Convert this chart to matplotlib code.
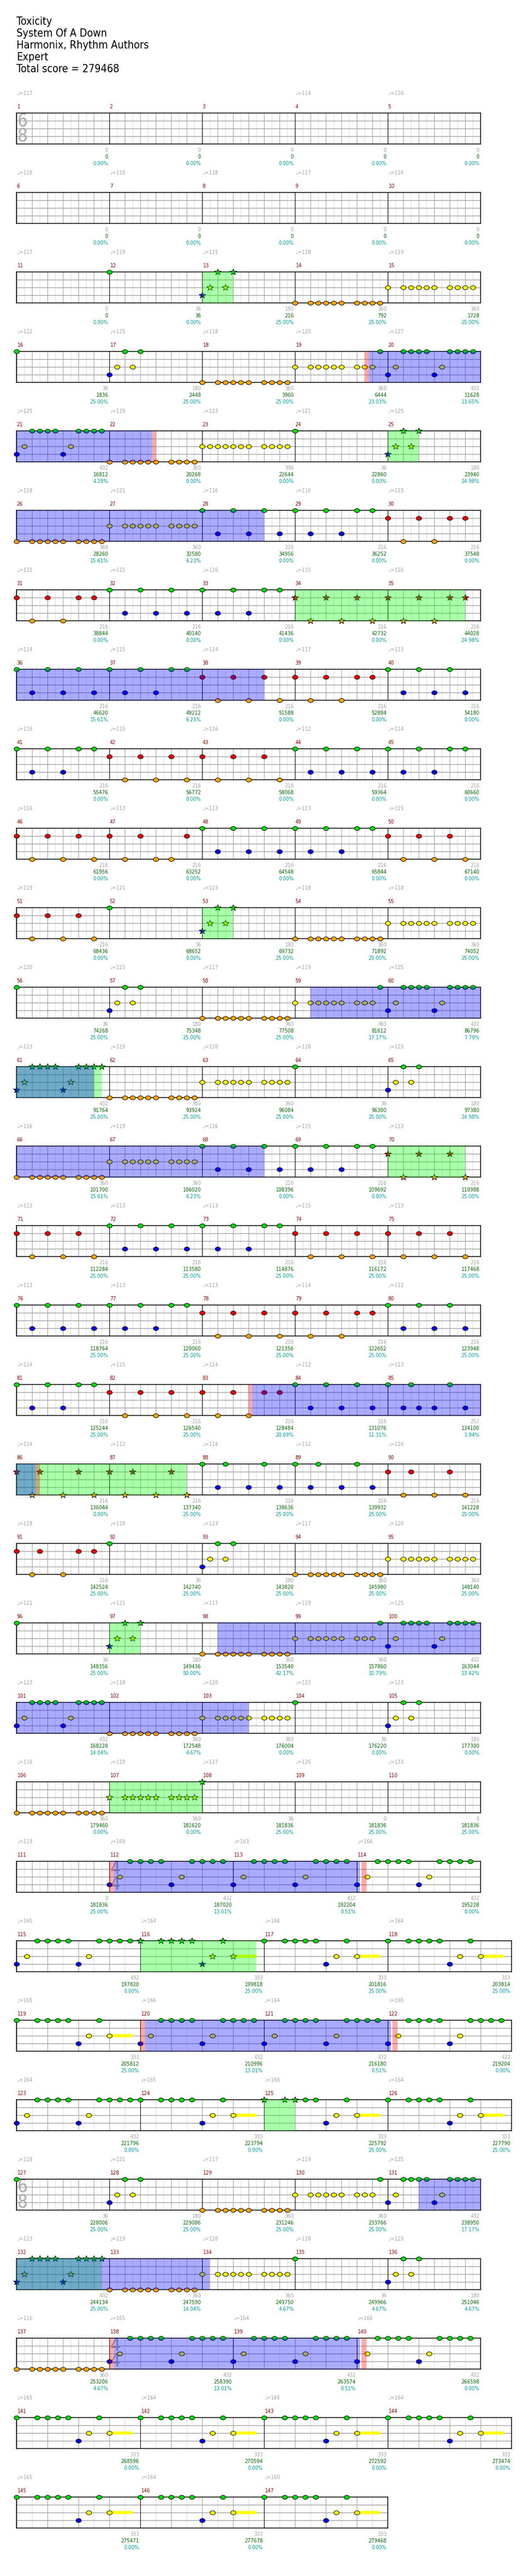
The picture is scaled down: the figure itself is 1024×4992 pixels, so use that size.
import matplotlib
matplotlib.use("Agg")
import matplotlib.pyplot as plt
import matplotlib.patches as mpatches
from matplotlib.path import Path
import numpy as np

#----------------------------------------------------------------------
#   Chart data
# ----------------------------------------------------------------------

header_lines = ["Toxicity", "System Of A Down", "Harmonix, Rhythm Authors", "Expert",
                "Total score = 279468"]

n_measures      = 147
time_signatures = {1: (6, 8), 112: (4, 4), 127: (6, 8), 138: (4, 4)}

tempo_marks = {
    1: 117, 4: 114, 5: 116,
    6: 116, 7: 116, 8: 118, 9: 117, 10: 116,
    11: 117, 12: 119, 13: 125, 14: 118, 15: 119,
    16: 122, 17: 125, 18: 118, 19: 120, 20: 127,
    21: 125, 22: 119, 23: 123, 24: 121, 25: 125,
    26: 118, 27: 121, 28: 116, 29: 116, 30: 115,
    31: 115, 32: 115, 33: 116, 34: 115, 35: 116,
    36: 114, 37: 115, 38: 114, 39: 117, 40: 113,
    41: 116, 42: 115, 43: 116, 44: 112, 45: 114,
    46: 116, 47: 113, 48: 113, 49: 113, 50: 115,
    51: 119, 52: 121, 53: 123, 54: 118, 55: 118,
    56: 120, 57: 123, 58: 117, 59: 119, 60: 125,
    61: 123, 62: 119, 63: 120, 64: 118, 65: 123,
    66: 116, 67: 119, 68: 116, 69: 115, 70: 113,
    71: 113, 72: 113, 73: 113, 74: 115, 75: 113,
    76: 113, 77: 113, 78: 113, 79: 114, 80: 112,
    81: 114, 82: 115, 83: 114, 84: 112, 85: 113,
    86: 114, 87: 112, 88: 114, 89: 112, 90: 116,
    91: 118, 92: 118, 93: 123, 94: 117, 95: 120,
    96: 121, 97: 121, 98: 117, 99: 119, 100: 125,
    101: 123, 102: 118, 103: 120, 104: 122, 105: 123,
    106: 116, 107: 119, 108: 127, 109: 126, 110: 133,
    111: 119, 112: 169, 113: 163, 114: 166,
    115: 165, 116: 164, 117: 166, 118: 164,
    119: 165, 120: 166, 121: 164, 122: 165,
    123: 164, 124: 165, 125: 166, 126: 164,
    127: 118, 128: 121, 129: 117, 130: 119, 131: 125,
    132: 123, 133: 119, 134: 120, 135: 118, 136: 123,
    137: 116, 138: 165, 139: 164, 140: 166,
    141: 165, 142: 164, 143: 166, 144: 164,
    145: 165, 146: 164, 147: 160,
}

# notes per measure: lane letter + position in 16ths from the measure start
notes = {
    12: "G0",
    13: "B0 Y1 G2 Y3 G4",
    14: "O0 O2 O3 O4 O5 O6 O8 O9 O10 O11",
    15: "Y0 Y2 Y3 Y4 Y5 Y6 Y8 Y9 Y10 Y11",
    16: "G0",
    17: "B0 Y1 G2 Y3 G4",
    18: "O0 O2 O3 O4 O5 O6 O8 O9 O10 O11",
    19: "Y0 Y2 Y3 Y4 Y5 Y6 Y8 Y9 Y10 G11",
    20: "B0 Y1 G2 G3 G4 G5 B6 Y7 G8 G9 G10 G11",
    21: "B0 Y1 G2 G3 G4 G5 B6 Y7 G8 G9 G10 G11",
    22: "O0 O2 O3 O4 O5 O6 O8 O9 O10 O11",
    23: "Y0 Y1 Y2 Y3 Y4 Y5 Y6 Y8 Y9 Y10 Y11",
    24: "G0",
    25: "B0 Y1 G2 Y3 G4",
    26: "O0 O2 O3 O4 O5 O6 O8 O9 O10 O11",
    27: "Y0 Y2 Y3 Y4 Y5 Y6 Y8 Y9 Y10 Y11",
    28: "G0 B2 G4 B6 G8 B10",
    29: "G0 B2 G4 B6 G8 G10",
    30: "R0 O2 R4 O6 R8 R10",
    31: "R0 O2 R4 O6 R8 R10",
    32: "G0 B2 G4 B6 G8 B10",
    33: "G0 B2 G4 B6 G8 G10",
    34: "R0 O2 R4 O6 R8 O10",
    35: "R0 O2 R4 O6 R8 R10",
    36: "G0 B2 G4 B6 G8 B10",
    37: "G0 B2 G4 B6 G8 G10",
    38: "R0 O2 R4 O6 R8 O10",
    39: "R0 O2 R4 O6 R8 R10",
    40: "G0 B2 G4 B6 G8 B10",
    41: "G0 B2 G4 B6 G8 G10",
    42: "R0 O2 R4 O6 R8 O10",
    43: "R0 O2 R4 O6 R8 O10",
    44: "G0 B2 G4 B6 G8 B10",
    45: "G0 B2 G4 B6 G8 G10",
    46: "R0 O2 R4 O6 R8 O10",
    47: "R0 O2 R4 O6 O8 R10",
    48: "G0 B2 G4 B6 G8 B10",
    49: "G0 B2 G4 B6 G8 G10",
    50: "R0 O2 R4 O6 R8 O10",
    51: "R0 O2 R4 O6 R8 O10",
    52: "G0",
    53: "B0 Y1 G2 Y3 G4",
    54: "O0 O2 O3 O4 O5 O6 O8 O9 O10 O11",
    55: "Y0 Y2 Y3 Y4 Y5 Y6 Y8 Y9 Y10 Y11",
    56: "G0",
    57: "B0 Y1 G2 Y3 G4",
    58: "O0 O2 O3 O4 O5 O6 O8 O9 O10 O11",
    59: "Y0 Y2 Y3 Y4 Y5 Y6 Y8 Y9 Y10 G11",
    60: "B0 Y1 G2 G3 G4 G5 B6 Y7 G8 G9 G10 G11",
    61: "B0 Y1 G2 G3 G4 G5 B6 Y7 G8 G9 G10 G11",
    62: "O0 O2 O3 O4 O5 O6 O8 O9 O10 O11",
    63: "Y0 Y2 Y3 Y4 Y5 Y6 Y8 Y9 Y10 Y11",
    64: "G0",
    65: "B0 Y1 G2 Y3 G4",
    66: "O0 O2 O3 O4 O5 O6 O8 O9 O10 O11",
    67: "Y0 Y2 Y3 Y4 Y5 Y6 Y8 Y9 Y10 Y11",
    68: "G0 B2 G4 B6 G8 B10",
    69: "G0 B2 G4 B6 G8 G10",
    70: "R0 O2 R4 O6 R8 O10",
    71: "R0 O2 R4 O6 R8 O10",
    72: "G0 B2 G4 B6 G8 B10",
    73: "G0 B2 G4 B6 G8 G10",
    74: "R0 O2 R4 O6 R8 O10",
    75: "R0 O2 R4 O6 R8 O10",
    76: "G0 B2 G4 B6 G8 B10",
    77: "G0 B2 G4 B6 G8 G10",
    78: "R0 O2 R4 O6 R8 O10",
    79: "R0 O2 R4 O6 R8 R10",
    80: "G0 B2 G4 B6 G8 B10",
    81: "G0 B2 G4 B6 G8 G10",
    82: "R0 O2 R4 O6 R8 O10",
    83: "R0 O2 R4 O6 R8 R10",
    84: "G0 B2 G4 B6 G8 B10",
    85: "G0 B2 G3 B4 B6 G8 B10",
    86: "R0 O2 R3 O6 R8 O10",
    87: "R0 O2 R3 O6 R8 O10",
    88: "G0 B2 G3 B6 G8 B10",
    89: "G0 B2 G3 B6 G8 B10",
    90: "R0 O2 R3 O6 R8 O10",
    91: "R0 O2 R3 O6 R8 R10",
    92: "G0",
    93: "B0 Y1 G2 Y3 G4",
    94: "O0 O2 O3 O4 O5 O6 O8 O9 O10 O11",
    95: "Y0 Y2 Y3 Y4 Y5 Y6 Y8 Y9 Y10 Y11",
    96: "G0",
    97: "B0 Y1 G2 Y3 G4",
    98: "O0 O2 O3 O4 O5 O6 O8 O9 O10 O11",
    99: "Y0 Y2 Y3 Y4 Y5 Y6 Y8 Y9 Y10 G11",
    100: "B0 Y1 G2 G3 G4 G5 B6 Y7 G8 G9 G10 G11",
    101: "B0 Y1 G2 G3 G4 G5 B6 Y7 G8 G9 G10 G11",
    102: "O0 O2 O3 O4 O5 O6 O8 O9 O10 O11",
    103: "Y0 Y2 Y3 Y4 Y5 Y6 Y8 Y9 Y10 Y11",
    104: "G0",
    105: "B0 Y1 G2 Y3 G4",
    106: "O0 O2 O3 O4 O5 O6 O8 O9 O10 O11",
    107: "Y0 Y2 Y3 Y4 Y5 Y6 Y8 Y9 Y10 Y11",
    108: "G0",
    112: "B0 Y1.33 G2.67 G4 G5.33 G6.67 B8 Y9.33 G10.67 G12 G13.33 G14.67",
    113: "B0 Y1.33 G2.67 G4 G5.33 G6.67 B8 Y9.33 G10.67 G12 G13.33 G14.67",
    114: "B0 Y1.33 G2.67 G4 G5.33 G6.67 B8 Y9.33 G10.67 G12 G13.33 G14.67",
    115: "B0 Y1.33 G2.67 G4 G5.33 G6.67 B8 Y9.33 G10.67 G12 G13.33 G14.67",
    116: "G0 G2.67 G4 G5.33 G6.67 B8 Y9.33 G10.67 Y12",
    117: "G0 G2.67 G4 G5.33 G6.67 B8 Y9.33 G10.67 Y12",
    118: "G0 G2.67 G4 G5.33 G6.67 B8 Y9.33 G10.67 Y12",
    119: "G0 G2.67 G4 G5.33 G6.67 B8 Y9.33 G10.67 Y12",
    120: "B0 Y1.33 G2.67 G4 G5.33 G6.67 B8 Y9.33 G10.67 G12 G13.33 G14.67",
    121: "B0 Y1.33 G2.67 G4 G5.33 G6.67 B8 Y9.33 G10.67 G12 G13.33 G14.67",
    122: "B0 Y1.33 G2.67 G4 G5.33 G6.67 B8 Y9.33 G10.67 G12 G13.33 G14.67",
    123: "B0 Y1.33 G2.67 G4 G5.33 G6.67 B8 Y9.33 G10.67 G12 G13.33 G14.67",
    124: "G0 G2.67 G4 G5.33 G6.67 B8 Y9.33 G10.67 Y12",
    125: "G0 G2.67 G4 G5.33 G6.67 B8 Y9.33 G10.67 Y12",
    126: "G0 G2.67 G4 G5.33 G6.67 B8 Y9.33 G10.67 Y12",
    127: "G0",
    128: "B0 Y1 G2 Y3 G4",
    129: "O0 O2 O3 O4 O5 O6 O8 O9 O10 O11",
    130: "Y0 Y2 Y3 Y4 Y5 Y6 Y8 Y9 Y10 G11",
    131: "B0 Y1 G2 G3 G4 G5 B6 Y7 G8 G9 G10 G11",
    132: "B0 Y1 G2 G3 G4 G5 B6 Y7 G8 G9 G10 G11",
    133: "O0 O2 O3 O4 O5 O6 O8 O9 O10 O11",
    134: "Y0 Y2 Y3 Y4 Y5 Y6 Y8 Y9 Y10 Y11",
    135: "G0",
    136: "B0 Y1 G2 Y3 G4",
    137: "O0 O2 O3 O4 O5 O6 O8 O9 O10 O11",
    138: "B0 Y1.33 G2.67 G4 G5.33 G6.67 B8 Y9.33 G10.67 G12 G13.33 G14.67",
    139: "B0 Y1.33 G2.67 G4 G5.33 G6.67 B8 Y9.33 G10.67 G12 G13.33 G14.67",
    140: "B0 Y1.33 G2.67 G4 G5.33 G6.67 B8 Y9.33 G10.67 G12 G13.33 G14.67",
    141: "G0 G2.67 G4 G5.33 G6.67 B8 Y9.33 G10.67 Y12",
    142: "G0 G2.67 G4 G5.33 G6.67 B8 Y9.33 G10.67 Y12",
    143: "G0 G2.67 G4 G5.33 G6.67 B8 Y9.33 G10.67 Y12",
    144: "G0 G2.67 G4 G5.33 G6.67 B8 Y9.33 G10.67 Y12",
    145: "G0 G2.67 G4 G5.33 G6.67 B8 Y9.33 G10.67 Y12",
    146: "G0 G2.67 G4 G5.33 G6.67 B8 Y9.33 G10.67 Y12",
    147: "G0 G2.67 G4 G5.33 G6.67 B8 Y9.33 G10.67 Y12",
}

# sustains: (measure, lane, start, end) in 16ths
sustains = [(116, "Y", 12, 15), (117, "Y", 12, 15), (118, "Y", 12, 15),
            (119, "Y", 12, 15), (124, "Y", 12, 15), (125, "Y", 12, 15),
            (126, "Y", 12, 15), (141, "Y", 12, 15), (142, "Y", 12, 15),
            (143, "Y", 12, 15), (144, "Y", 12, 15), (145, "Y", 12, 15),
            (146, "Y", 12, 15), (147, "Y", 12, 15)]

# star power phrases and activations: ((measure, pos), (measure, pos))
sp_phrases = [((13, 0), (13, 4)), ((25, 0), (25, 4)), ((34, 0), (35, 10)),
              ((53, 0), (53, 4)), ((61, 0), (61, 11)), ((70, 0), (70, 10)),
              ((86, 0), (87, 10)), ((97, 0), (97, 4)), ((107, 0), (108, 0)),
              ((116, 0), (116, 15)), ((125, 0), (125, 4)), ((132, 0), (132, 11))]
activations = [((19, 9.5), (22, 5.5)), ((26, 0), (28, 8)), ((36, 0), (38, 8)),
               ((59, 2), (61, 10)), ((66, 0), (68, 8)), ((83, 6.45), (86, 2.45)),
               ((98, 2), (103, 6)), ((112, 0.6), (114, 0.4)), ((120, 0.6), (122, 0.4)),
               ((131, 4), (134, 1)), ((138, 0.6), (140, 0.4))]
squeezes = [((19, 9.0), (19, 9.5)), ((22, 5.5), (22, 6.0)), ((83, 6.0), (83, 6.45)),
            ((86, 2.45), (86, 3.0)), ((112, 0), (112, 0.6)), ((114, 0.6), (114, 1.25)),
            ((120, 0), (120, 0.6)), ((122, 0.6), (122, 1.25)),
            ((138, 0), (138, 0.6)), ((140, 0.6), (140, 1.25))]

base_scores = ([0] * 10 +
               [0, 36, 180, 360, 360, 36, 180, 360, 360, 432,
                432, 360, 396, 36, 180, 360, 360, 216, 216, 216] +
               [216] * 20 +
               [216, 36, 180, 360, 360, 36, 180, 360, 360, 432,
                432, 360, 360, 36, 180, 360, 360, 216, 216, 216] +
               [216] * 10 +
               [216, 216, 216, 216, 252, 216, 216, 216, 216, 216,
                216, 36, 180, 360, 360, 36, 180, 360, 360, 432,
                432, 360, 360, 36, 180, 360, 360, 36, 0, 0,
                0, 432, 432, 432, 432, 333, 333, 333,
                333, 432, 432, 432, 432, 333, 333, 333,
                36, 180, 360, 360, 432, 432, 360, 360, 36, 180,
                360, 432, 432, 432, 333, 333, 333, 333, 333, 333, 333])
running_scores = ([0] * 10 +
                  [0, 36, 216, 792, 1728, 1836, 2448, 3960, 6444, 11628,
                   16812, 20268, 22644, 22860, 23940, 28260, 32580, 34956, 36252, 37548,
                   38844, 40140, 41436, 42732, 44028, 46620, 49212, 51588, 52884, 54180,
                   55476, 56772, 58068, 59364, 60660, 61956, 63252, 64548, 65844, 67140,
                   68436, 68652, 69732, 71892, 74052, 74268, 75348, 77508, 81612, 86796,
                   91764, 93924, 96084, 96300, 97380, 101700, 106020, 108396, 109692, 110988,
                   112284, 113580, 114876, 116172, 117468, 118764, 120060, 121356, 122652, 123948,
                   125244, 126540, 128484, 131076, 134100, 136044, 137340, 138636, 139932, 141228,
                   142524, 142740, 143820, 145980, 148140, 148356, 149436, 153540, 157860, 163044,
                   168228, 172548, 176004, 176220, 177300, 179460, 181620, 181836, 181836, 181836,
                   181836, 187020, 192204, 195228, 197820, 199818, 201816, 203814,
                   205812, 210996, 216180, 219204, 221796, 223794, 225792, 227790,
                   228006, 229086, 231246, 233766, 238950, 244134, 247590, 249750, 249966, 251046,
                   253206, 258390, 263574, 266598, 268596, 270594, 272592, 273474, 275471,
                   277678, 279468])
sp_percents = ([0.0] * 10 +
               [0, 0, 25, 25, 25, 25, 25, 25, 23.03, 13.65,
                4.28, 0, 0, 0, 24.98, 15.61, 6.23, 0, 0, 0,
                0, 0, 0, 0, 24.98, 15.61, 6.23, 0, 0, 0] +
               [0.0] * 10 +
               [0, 0, 25, 25, 25, 25, 25, 25, 17.17, 7.79,
                25, 25, 25, 25, 24.98, 15.61, 6.23, 0, 0, 25] +
               [25.0] * 10 +
               [25, 25, 20.69, 11.31, 1.94, 0, 25, 25, 25, 25,
                25, 25, 25, 25, 25, 25, 50, 42.17, 32.79, 23.42,
                14.04, 4.67, 0, 0, 0, 0, 0, 25, 25, 25,
                25, 13.01, 0.51, 0, 0, 25, 25, 25,
                25, 13.01, 0.51, 0, 0, 0, 25, 25,
                25, 25, 25, 25, 17.17, 25, 14.04, 4.67, 4.67, 4.67,
                4.67, 13.01, 0.51, 0, 0, 0, 0, 0, 0, 0, 0])

# ----------------------------------------------------------------------
#   Styling
# ----------------------------------------------------------------------

W, H       = 1024, 4992
PX_PER_16  = 15
ROW_TICKS  = 64
lane_of    = {"G": 0, "R": 1, "Y": 2, "B": 3, "O": 4}
lane_color = {"G": "#00dd00", "R": "#ee0000", "Y": "#ffff00", "B": "#0000ee", "O": "#ffa500"}
FONT       = dict(family="DejaVu Sans", fontstretch="condensed")

t = np.linspace(0, 2 * np.pi, 40)
note_marker = Path(np.column_stack([np.cos(t), 0.75 * np.sin(t)]))
star = Path.unit_regular_star(5, 0.4)
star_marker = Path(star.vertices * [1.0, 0.9], star.codes)

fig = plt.figure(figsize=(W / 100, H / 100), dpi=100)

for i, line in enumerate(header_lines):
    fig.text(32 / W, 1 - (42 + 23 * i) / H, line, fontsize=15, va="center", ha="left", **FONT)

# measure lengths (16ths) and rows of at most 16 quarter beats
measure_len, measure_sig = {}, {}
sig = None
for m in range(1, n_measures + 1):
    sig = time_signatures.get(m, sig)
    measure_sig[m] = sig
    measure_len[m] = sig[0] * 16 // sig[1]

measure_start = {}
acc = 0
for m in range(1, n_measures + 1):
    measure_start[m] = acc
    acc += measure_len[m]

rows, cur, cur_len = [], [], 0
for m in range(1, n_measures + 1):
    if cur and cur_len + measure_len[m] > ROW_TICKS:
        rows.append(cur)
        cur, cur_len = [], 0
    cur.append(m)
    cur_len += measure_len[m]
rows.append(cur)


def gtick(mp):
    return measure_start[mp[0]] + mp[1]


phrase_ticks = [(gtick(a), gtick(b)) for a, b in sp_phrases]
act_ticks    = [(gtick(a), gtick(b)) for a, b in activations]
sq_ticks     = [(gtick(a), gtick(b)) for a, b in squeezes]


def overlay(ax, spans, g0, g1, color):
    for a, b in spans:
        lo, hi = max(a, g0), min(b, g1)
        if hi > lo:
            ax.add_patch(mpatches.Rectangle((lo - g0, 0), hi - lo, 4, facecolor=color,
                                            alpha=1 / 3, lw=0, zorder=5))


for r, row in enumerate(rows):
    y0 = 181 + 154 * r
    g0 = measure_start[row[0]]
    row_len = sum(measure_len[m] for m in row)
    g1 = g0 + row_len
    ax = fig.add_axes([32 / W, 1 - (y0 + 98) / H, row_len * PX_PER_16 / W, 60 / H])
    ax.set_xlim(0, row_len)
    ax.set_ylim(4, 0)
    ax.set_xticks([])
    ax.set_yticks([])
    for s in ax.spines.values():
        s.set_color("black")
        s.set_linewidth(1.1)
        s.set_zorder(3)

    # grid
    for lane in (1, 2, 3):
        ax.axhline(lane, color="#a0a0a0", lw=1.0, zorder=1.2)
    for m in row:
        s0 = measure_start[m] - g0
        beat = 16 // measure_sig[m][1]
        for x in np.arange(s0, s0 + measure_len[m], beat / 2):
            ax.axvline(x, color="#dedede", lw=0.75, zorder=1)
        for x in np.arange(s0, s0 + measure_len[m], beat):
            ax.axvline(x, color="#a0a0a0", lw=0.75, zorder=1.1)
        ax.axvline(s0, color="black", lw=0.8, zorder=1.3)

        # time signature
        if m in time_signatures and (m == 1 or time_signatures[m] != measure_sig[m - 1]):
            num, den = time_signatures[m]
            ax.text(s0 + 0.1, 1.0, str(num), color="#aaaaaa", fontsize=25, ha="left",
                    va="center", zorder=2, **FONT)
            ax.text(s0 + 0.1, 3.0, str(den), color="#aaaaaa", fontsize=25, ha="left",
                    va="center", zorder=2, **FONT)

        # labels
        ax.text(s0 + 0.05, -0.8, str(m), color="#8b0000", fontsize=7.5, ha="left",
                va="center", **FONT)
        if m in tempo_marks:
            ax.text(s0 + 0.05, -2.53, "\u2669=%d" % tempo_marks[m], color="#a0a0a0",
                    fontsize=7.5, ha="left", va="center", **FONT)
        xe = s0 + measure_len[m] - 0.15
        ax.text(xe, 4.8, str(base_scores[m - 1]), color="#a0a0a0", fontsize=7.5,
                ha="right", va="center", **FONT)
        ax.text(xe, 5.67, str(running_scores[m - 1]), color="#006400", fontsize=7.5,
                ha="right", va="center", **FONT)
        ax.text(xe, 6.53, "%.2f%%" % sp_percents[m - 1], color="#009a9a", fontsize=7.5,
                ha="right", va="center", **FONT)

        # sustains
        for sm, lane, a, b in sustains:
            if sm == m:
                ax.add_patch(mpatches.Rectangle((s0 + a, lane_of[lane] - 0.22), b - a, 0.44,
                                                facecolor=lane_color[lane], lw=0, zorder=2))

        # notes
        for tok in notes.get(m, "").split():
            lane, pos = tok[0], float(tok[1:])
            g = measure_start[m] + pos
            is_star = any(a - 1e-6 <= g <= b + 1e-6 for a, b in phrase_ticks)
            ax.scatter([s0 + pos], [lane_of[lane]], s=88 if is_star else 56,
                       marker=star_marker if is_star else note_marker,
                       facecolor=lane_color[lane], edgecolor="black", linewidths=0.7,
                       zorder=4, clip_on=False)

    overlay(ax, phrase_ticks, g0, g1, "#00ff00")
    overlay(ax, act_ticks, g0, g1, "#0000ff")
    overlay(ax, sq_ticks, g0, g1, "#ff0000")

fig.savefig("out.png", dpi=100)
